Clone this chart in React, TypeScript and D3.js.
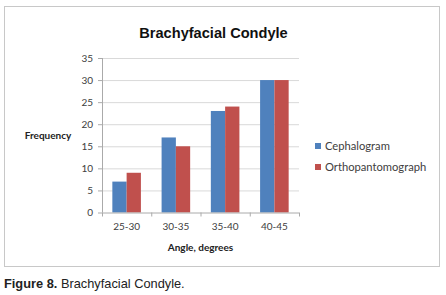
import React from "react";
import * as d3 from "d3";

const categories = ["25-30", "30-35", "35-40", "40-45"];
const seriesNames = ["Cephalogram", "Orthopantomograph"];
const cephalogram = [7, 17, 23, 30];
const orthopantomograph = [9, 15, 24, 30];
const yTicks = [0, 5, 10, 15, 20, 25, 30, 35];
const colors = ["#4F81BD", "#C0504D"];

const width = 446;
const height = 295;
const margin = { top: 58, left: 102, bottom: 82.5, right: 147 };
const iwidth = width - margin.left - margin.right;
const iheight = height - margin.top - margin.bottom;

const chartFont = "Lato, 'Open Sans', sans-serif";

export default function App() {
  const y = d3.scaleLinear().domain([0, 35]).range([iheight, 0]);
  const x = d3
    .scaleBand()
    .domain(categories)
    .range([0, iwidth])
    .paddingInner(0.42)
    .paddingOuter(0.21);
  const inner = d3
    .scaleBand()
    .domain(seriesNames)
    .range([0, x.bandwidth()]);
  const series = [cephalogram, orthopantomograph];

  return (
    <svg
      width={width}
      height={height}
      style={{ position: "fixed", left: 0, top: 0, background: "#fff" }}
    >
      <rect x={4.5} y={6.5} width={435} height={260} fill="#fff" stroke="#c8c8c8" />
      <text
        x={213.5}
        y={38}
        textAnchor="middle"
        fontFamily="'Liberation Sans', Arial, sans-serif"
        fontWeight="bold"
        fontSize={14.6}
        fill="#111"
      >
        Brachyfacial Condyle
      </text>
      <g transform={`translate(${margin.left},${margin.top})`}>
        {yTicks.map((t) => (
          <g key={t}>
            {t > 0 && (
              <line x1={0} x2={iwidth} y1={y(t) + 0.5} y2={y(t) + 0.5} stroke="#d9d9d9" />
            )}
            <line x1={-4} x2={0} y1={y(t) + 0.5} y2={y(t) + 0.5} stroke="#aaa" />
            <text
              x={-9}
              y={y(t)}
              dy="0.35em"
              textAnchor="end"
              fontFamily={chartFont}
              fontSize={10}
              fill="#404040"
            >
              {t}
            </text>
          </g>
        ))}
        {categories.map((c, i) =>
          series.map((s, j) => (
            <rect
              key={c + j}
              x={(x(c) as number) + (inner(seriesNames[j]) as number)}
              y={y(s[i])}
              width={inner.bandwidth()}
              height={iheight - y(s[i])}
              fill={colors[j]}
            />
          ))
        )}
        <line x1={0.5} x2={0.5} y1={0} y2={iheight} stroke="#aaa" />
        <line x1={0} x2={iwidth} y1={iheight + 0.5} y2={iheight + 0.5} stroke="#aaa" />
        {d3.range(categories.length + 1).map((i) => (
          <line
            key={i}
            x1={i * x.step() + 0.5}
            x2={i * x.step() + 0.5}
            y1={iheight}
            y2={iheight + 4}
            stroke="#aaa"
          />
        ))}
        {categories.map((c) => (
          <text
            key={c}
            x={(x(c) as number) + x.bandwidth() / 2}
            y={iheight + 17}
            textAnchor="middle"
            fontFamily={chartFont}
            fontSize={10}
            fill="#404040"
          >
            {c}
          </text>
        ))}
        <text
          x={iwidth / 2}
          y={iheight + 38}
          textAnchor="middle"
          fontFamily={chartFont}
          fontWeight="bold"
          fontSize={10}
          fill="#222"
        >
          Angle, degrees
        </text>
      </g>
      <text
        x={48}
        y={139}
        textAnchor="middle"
        fontFamily={chartFont}
        fontWeight="bold"
        fontSize={10}
        fill="#222"
      >
        Frequency
      </text>
      {seriesNames.map((n, j) => (
        <g key={n} transform={`translate(315,${146 + j * 21})`}>
          <rect x={0} y={-3} width={6} height={6} fill={colors[j]} />
          <text
            x={10}
            y={0}
            dy="0.35em"
            fontFamily={chartFont}
            fontSize={11.2}
            fill="#404040"
          >
            {n}
          </text>
        </g>
      ))}
      <text
        x={4}
        y={288}
        fontFamily="'Liberation Sans', Arial, sans-serif"
        fontSize={12.8}
        fill="#222"
      >
        <tspan fontWeight="bold">Figure 8.</tspan> Brachyfacial Condyle.
      </text>
    </svg>
  );
}
